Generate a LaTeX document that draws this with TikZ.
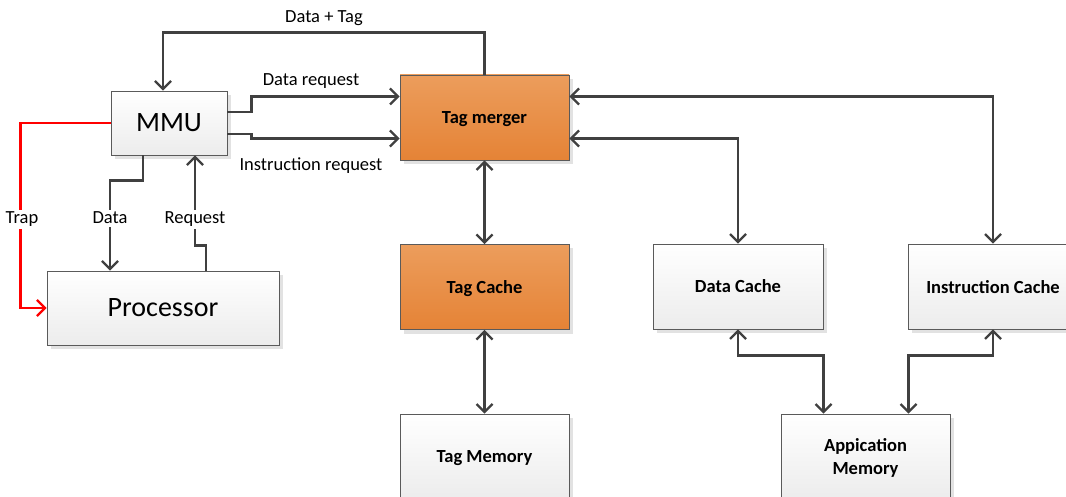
\documentclass[tikz,border=0pt]{standalone}
\usepackage{fontspec}
\setmainfont{Carlito}
\usetikzlibrary{arrows.meta,shadows}

\definecolor{wire}{HTML}{404040}
\definecolor{frame}{HTML}{5A5A5A}
\definecolor{shade}{HTML}{E2E2E2}
\definecolor{graybot}{HTML}{ECECEC}
\definecolor{orangetop}{RGB}{236,157,92}
\definecolor{orangebot}{RGB}{229,131,54}

\begin{document}
\begin{tikzpicture}[x=1pt,y=-1pt,
  box/.style={draw=frame, line width=0.9pt, inner sep=0pt, text depth=0pt,
    minimum width=169pt, minimum height=85pt,
    top color=white, bottom color=graybot,
    drop shadow={shadow xshift=4pt, shadow yshift=-4pt, fill=shade, opacity=1},
    font=\fontsize{18.5}{22.5}\selectfont\bfseries, align=center},
  hot/.style={box, top color=orangetop, bottom color=orangebot},
  big/.style={font=\fontsize{28}{32}\selectfont},
  conn/.style={draw=wire, line width=2.2pt},
  >={Straight Barb[length=8pt,width=16pt]},
  lbl/.style={font=\fontsize{18.5}{22.5}\selectfont, inner sep=2.5pt},
]
\useasboundingbox (0,0) rectangle (1066,497);

% blocks
\node[box, big, minimum width=116pt, minimum height=64pt] (mmu) at (169,123) {MMU};
\node[box, big, minimum width=232pt, minimum height=74pt] (proc) at (163,308) {Processor};
\node[hot] (merger) at (484.5,117.5) {Tag merger};
\node[hot] (tcache) at (484.5,287) {Tag Cache};
\node[box, minimum width=170pt] (dcache) at (738,286.5) {Data Cache};
\node[box, minimum width=170pt] (icache) at (993,286.5) {Instruction Cache};
\node[box] (tmem) at (484.5,456.5) {Tag Memory};
\node[box] (amem) at (865.5,456.5) {Appication\\Memory};

% connectors
\draw[conn,->] (merger.north) -- ++(0,-42) -| ([xshift=-6pt]mmu.north);
\draw[conn,->] ([yshift=11pt]mmu.east) -- ++(24,0) |- ([yshift=21pt]merger.west);
\draw[conn,->] ([yshift=-11pt]mmu.east) -- ++(24,0) |- ([yshift=-21pt]merger.west);
\draw[conn,<->] ([yshift=21pt]merger.east) -| (icache.north);
\draw[conn,<->] ([yshift=-21pt]merger.east) -| (dcache.north);
\draw[conn,<->] (merger.south) -- (tcache.north);
\draw[conn,<->] (tcache.south) -- (tmem.north);
\draw[conn,<->] (dcache.south) -- ++(0,26) -| ([xshift=-42pt]amem.north);
\draw[conn,<->] (icache.south) -- ++(0,26) -| ([xshift=43pt]amem.north);
\draw[conn,->] ([xshift=-26pt]mmu.south) -- ++(0,25) -| ([xshift=-53pt]proc.north);
\draw[conn,->] ([xshift=43pt]proc.north) -- ++(0,-25) -| ([xshift=26pt]mmu.south);
\draw[conn,->,draw=red] (mmu.west) -| ([xshift=-26pt]proc.west) -- (proc.west);

% labels
\node[lbl, anchor=base] (ldt) at (324,23) {Data + Tag};
\node[lbl, anchor=base] (ldr) at (311,86) {Data request};
\node[lbl, anchor=base] (lir) at (311,171) {Instruction request};
\node[lbl, anchor=base, fill=white] (ltrap) at (22,224) {Trap};
\node[lbl, anchor=base, fill=white] (ldata) at (110,224) {Data};
\node[lbl, anchor=base, fill=white] (lreq) at (195,224) {Request};
\end{tikzpicture}
\end{document}
